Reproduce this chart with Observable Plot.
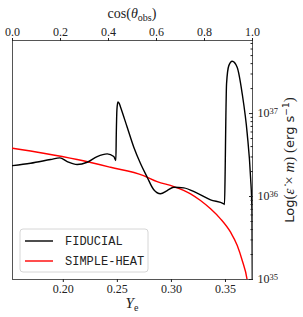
<!DOCTYPE html>
<html><head><meta charset="utf-8">
<script src="https://cdn.jsdelivr.net/npm/d3@7"></script>
<script src="https://cdn.jsdelivr.net/npm/@observablehq/plot@0.6"></script>
<style>body{margin:0;background:#fff}</style>
</head><body><div id="chart"></div>
<script>
// FIDUCIAL curve: Ye and log10(luminosity)
const fiducialYe  = [0.1530,0.1697,0.1882,0.1968,0.2036,0.2128,0.2221,0.2313,0.2406,0.2467,0.2486,0.2490,0.2496,0.2505,0.2518,0.2529,0.2591,0.2652,0.2714,0.2776,0.2837,0.2899,0.2961,0.3022,0.3114,0.3238,0.3362,0.3485,0.3491,0.3497,0.3503,0.3510,0.3531,0.3562,0.3608,0.3655,0.3701,0.3732,0.3745,0.3749];
const fiducialLog = [36.373,36.401,36.446,36.466,36.422,36.386,36.413,36.482,36.514,36.482,36.434,36.75,37.05,37.14,37.12,37.08,36.835,36.594,36.398,36.233,36.081,36.033,36.072,36.112,36.105,36.040,35.960,35.912,35.904,36.30,36.90,37.36,37.578,37.630,37.558,37.237,36.759,36.233,35.83,34.8];
// SIMPLE-HEAT curve
const simpleYe  = [0.1530,0.1817,0.2128,0.2437,0.2742,0.2868,0.3022,0.3177,0.3269,0.3362,0.3454,0.3547,0.3609,0.3655,0.3701,0.3713];
const simpleLog = [36.582,36.522,36.446,36.353,36.253,36.180,36.120,36.033,35.952,35.852,35.731,35.570,35.410,35.229,34.99,34.87];

const seriesNames  = ["FIDUCIAL","SIMPLE-HEAT"];
const seriesColors = ["black","red"];
const bottomTicks = [0.20,0.25,0.30,0.35];
const topTicks = [0.0,0.2,0.4,0.6,0.8,1.0];
const powerTicks = [35,36,37];
const xDomain = [0.153,0.375];
const yDomain = [1e35, 7.6e37];

const fid = fiducialYe.map((x,i)=>({x, y:10**fiducialLog[i], s:seriesNames[0]}));
const simp = simpleYe.map((x,i)=>({x, y:10**simpleLog[i], s:seriesNames[1]}));
const toYe = c => xDomain[0] + c*(xDomain[1]-xDomain[0]);
const minor = [];
for (const p of powerTicks) for (let k=2;k<=9;k++){ const v=k*10**p; if (v<yDomain[1]) minor.push(v); }

const plot = Plot.plot({
  width:303, height:317,
  marginTop:40, marginBottom:38, marginLeft:12, marginRight:51,
  x:{domain:xDomain},
  y:{type:"log", domain:yDomain},
  style:{fontFamily:"Liberation Serif", fontSize:"12px", background:"white", color:"#222"},
  marks:[
    Plot.frame({stroke:"#555"}),
    Plot.line(simp,{x:"x",y:"y",stroke:seriesColors[1],strokeWidth:1.4,curve:"monotone-x",clip:true}),
    Plot.line(fid,{x:"x",y:"y",stroke:seriesColors[0],strokeWidth:1.4,curve:"monotone-x",clip:true}),
    Plot.axisX(bottomTicks,{anchor:"bottom",tickSize:3,tickPadding:2,tickFormat:d=>d.toFixed(2),label:null}),
    Plot.axisX(topTicks.map(toYe),{anchor:"top",tickSize:3,tickPadding:2,
      tickFormat:d=>((d-xDomain[0])/(xDomain[1]-xDomain[0])).toFixed(1),label:null}),
    Plot.axisY(powerTicks.map(p=>10**p),{anchor:"right",tickSize:0,tickPadding:5,
      tickFormat:d=>"10^"+Math.round(Math.log10(d)),label:null}),
    Plot.axisY(powerTicks.map(p=>10**p),{anchor:"right",tickSize:-4,tickFormat:()=>"",label:null}),
    Plot.axisY(minor,{anchor:"right",tickSize:-2.5,tickFormat:()=>"",label:null})
  ]
});
document.getElementById("chart").appendChild(plot);
const svg = d3.select(plot);

// superscript exponents
svg.selectAll("text").each(function(){
  const t = d3.select(this); const m = /^10\^(\d+)$/.exec(t.text());
  if (m){ t.text("10"); t.append("tspan").attr("dy","-0.45em").attr("font-size","8.5px").text(m[1]); }
});

// top title
const tt = svg.append("text").attr("x",132).attr("y",18).attr("text-anchor","middle")
  .attr("font-family","Liberation Serif").attr("font-size","14px").attr("fill","#222");
tt.append("tspan").text("cos(");
tt.append("tspan").attr("font-style","italic").text("θ");
tt.append("tspan").attr("font-size","10px").attr("dy","3").text("obs");
tt.append("tspan").attr("dy","-3").text(")");

// x label
const xl = svg.append("text").attr("x",132).attr("y",308).attr("text-anchor","middle")
  .attr("font-family","Liberation Serif").attr("font-size","15px").attr("fill","#222");
xl.append("tspan").attr("font-style","italic").text("Y");
xl.append("tspan").attr("font-size","10px").attr("dy","3").text("e");

// right y label
const yl = svg.append("text").attr("transform","translate(294,160) rotate(-90)").attr("text-anchor","middle")
  .attr("font-family","DejaVu Sans").attr("font-size","13px").attr("fill","#222");
const ser = "Liberation Serif";
yl.append("tspan").text("Log");
yl.append("tspan").attr("font-family",ser).attr("font-size","15px").text("(");
yl.append("tspan").attr("font-family",ser).attr("font-style","italic").attr("font-size","15px").text("ε̇");
yl.append("tspan").attr("font-family",ser).attr("font-size","15px").text(" × ");
yl.append("tspan").attr("font-family",ser).attr("font-style","italic").attr("font-size","15px").text("m");
yl.append("tspan").attr("font-family",ser).attr("font-size","15px").text(") (");
yl.append("tspan").text("erg s");
yl.append("tspan").attr("font-size","9px").attr("dy","-5").text("−1");
yl.append("tspan").attr("dy","5").attr("font-family",ser).attr("font-size","15px").text(")");

// legend
const lg = svg.append("g");
lg.append("rect").attr("x",20).attr("y",229).attr("width",128).attr("height",43).attr("rx",3)
  .attr("fill","white").attr("fill-opacity",0.85).attr("stroke","#ccc").attr("stroke-width",0.8);
seriesNames.forEach((n,i)=>{
  const y = 241 + i*20;
  lg.append("line").attr("x1",25).attr("x2",53).attr("y1",y).attr("y2",y).attr("stroke",seriesColors[i]).attr("stroke-width",1.4);
  lg.append("text").attr("x",65).attr("y",y).attr("dy","0.35em").attr("text-anchor","start")
    .attr("font-family","Liberation Mono").attr("font-size","12px").attr("fill","#222").text(n);
});
</script>
</body></html>
